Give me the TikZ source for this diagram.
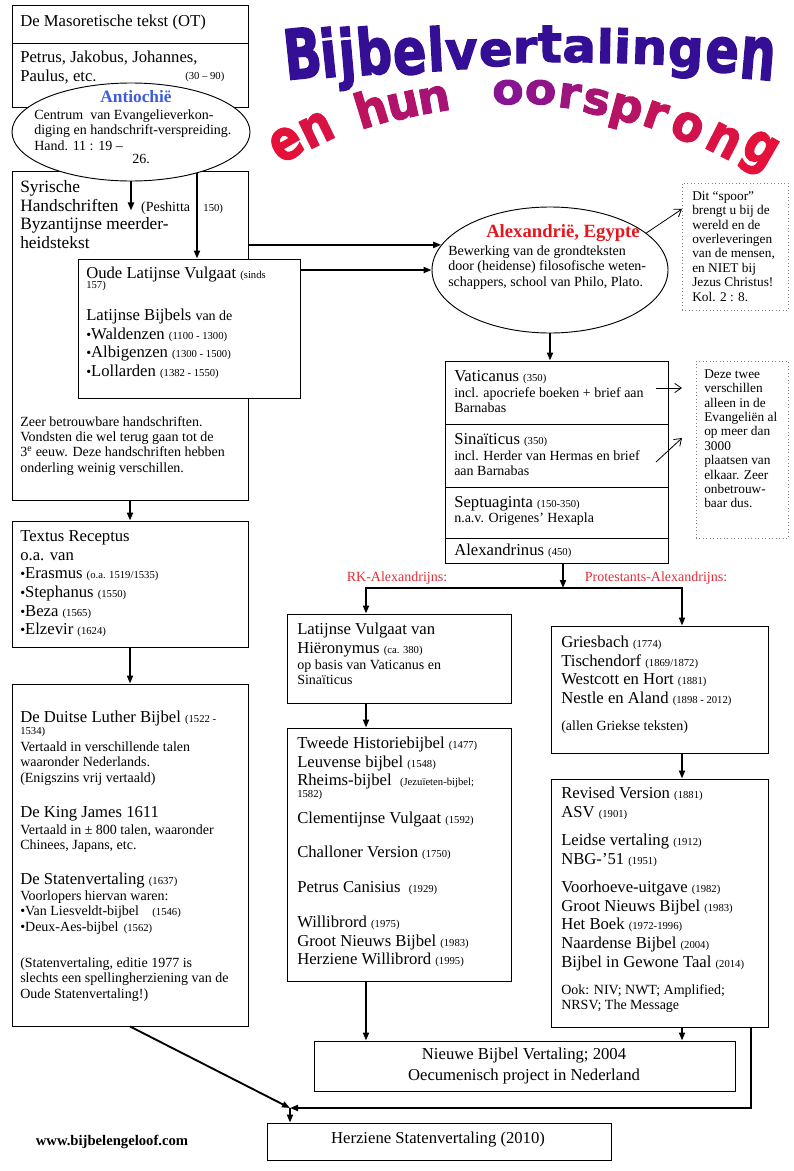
\documentclass[tikz,border=0pt]{standalone}
\usepackage{fontspec}
\setmainfont{Liberation Serif}
\newfontfamily\titelfont[BoldFeatures={FakeBold=2.5}]{DejaVu Sans}
\usetikzlibrary{fit,shapes.geometric,arrows.meta}

\definecolor{titelblauw}{RGB}{52,14,148}
\definecolor{titelpaars}{RGB}{135,20,145}
\definecolor{titelrood}{RGB}{228,18,58}
\definecolor{antblauw}{RGB}{62,92,222}
\definecolor{alexrood}{RGB}{228,22,32}
\definecolor{labelrood}{RGB}{226,44,56}

\newcommand\hoofd{\fontsize{12.5}{14}\selectfont}
\newcommand\klein{\fontsize{10.5}{11.5}\selectfont}
\newcommand\jaar{\fontsize{8}{9}\selectfont}
\newcommand\noot{\fontsize{10}{10.8}\selectfont}

\tikzset{
  kader/.style={draw, line width=0.7pt, fill=white, inner sep=0pt},
  notitie/.style={draw=gray, dotted, line width=0.6pt, inner sep=0pt},
  tekst/.style={anchor=north west, align=left, inner sep=0pt},
  regel/.style={anchor=west, inner sep=0pt},
  pijl/.style={line width=1.4pt, -{Triangle[length=6pt,width=4.5pt]}},
  dunpijl/.style={line width=0.6pt, -{Straight Barb[length=5pt,width=7pt]}},
  titelboven/.style={font=\titelfont\bfseries\fontsize{40}{40}\selectfont, inner sep=0pt, anchor=base},
  titelonder/.style={font=\titelfont\bfseries\fontsize{36}{36}\selectfont, inner sep=0pt, anchor=base},
}

\begin{document}
\begin{tikzpicture}[x=0.75pt, y=-0.75pt]
  \useasboundingbox (0,0) rectangle (793,1171);

  % titel in boogvorm
  \foreach \letter/\lx/\ly/\draai/\hoogte [count=\n] in {B/305/78/6/1.29, i/331/77/6/1.23,
      j/349/76/5/1.21, b/376/74/5/1.19, e/411/74/4/1.2, l/437/71/3/1.11, v/462/69/2/0.99,
      e/496/66/1/0.89, r/525/63/0/0.85, t/550/62/0/0.97, a/579/62/-1/0.86, l/605/63/-1/0.86,
      i/622/63/-2/0.86, n/649/64/-2/0.89, g/685/67/-3/0.99, e/721/72/-4/1.16, n/756/79/-5/1.4}
    \node[titelboven, text=titelblauw, rotate=\draai, xscale=0.93, yscale=\hoogte] (boven\n) at (\lx,\ly) {\letter};
  \foreach \letter/\lx/\ly/\draai/\hoogte [count=\n] in {e/294/157/30/1.16, n/323/143/26/1.11,
      h/376/125/17/1.0, u/406/118/13/0.98, n/436/112/10/0.93, o/508/104/0/0.89, o/540/104/-3/0.89,
      r/568/108/-7/0.91, s/594/114/-11/0.93, p/623/121/-15/0.96, r/651/128/-19/1.0,
      o/682/140/-23/1.05, n/717/154/-27/1.11, g/753/162/-30/1.16} {
    \pgfmathtruncatemacro\rood{min(100,abs(\draai)*3.4)}
    \node[titelonder, text=titelrood!\rood!titelpaars, rotate=\draai, xscale=0.95, yscale=\hoogte] (onder\n) at (\lx,\ly) {\letter};
  }

  % kaders
  \node[kader, fit={(12,5) (248,43)}] (mas) {};
  \node[kader, fit={(12,43) (248,107)}] (apost) {};
  \node[kader, fit={(12,171) (248,500)}] (syr) {};
  \node[kader, fit={(78,259) (300,398)}] (oude) {};
  \node[kader, fit={(12,521) (248,647)}] (textus) {};
  \node[kader, fit={(12,684) (248,1026)}] (luther) {};
  \node[kader, fit={(445,361) (668,424)}] (vat) {};
  \node[kader, fit={(445,424) (668,487)}] (sin) {};
  \node[kader, fit={(445,487) (668,538)}] (sep) {};
  \node[kader, fit={(445,538) (668,563)}] (alx) {};
  \node[kader, fit={(287,614) (511,703)}] (vulg) {};
  \node[kader, fit={(287,728) (511,981)}] (tweede) {};
  \node[kader, fit={(551,626) (768,753)}] (gries) {};
  \node[kader, fit={(551,779) (768,1027)}] (revised) {};
  \node[kader, fit={(314,1041) (735,1091)}] (nbv) {};
  \node[kader, fit={(267,1123) (611,1160)}] (herz) {};
  \node[notitie, fit={(682,183) (788,310)}] (noot1) {};
  \node[notitie, fit={(696,361) (788,538)}] (noot2) {};

  % ellipsen
  \node[kader, ellipse, minimum width=178.5pt, minimum height=73.5pt] (antiochie) at (131,132) {};
  \node[kader, ellipse, minimum width=177pt, minimum height=94.5pt] (alexandrie) at (550,270) {};

  % teksten links
  \node[regel, font=\hoofd] (mastekst) at (20,22) {De Masoretische tekst (OT)};
  \node[tekst, font=\hoofd] (aposttekst) at (20,49) {\strut Petrus, Jakobus, Johannes,\\Paulus, etc.};
  \node[regel, font=\jaar] (apostjaar) at (185,77) {(30 – 90)};

  \node[font=\fontsize{13}{15}\selectfont\bfseries, text=antblauw, inner sep=0pt] (anttitel) at (136,97) {Antiochië};
  \node[tekst, font=\klein] (anttekst) at (34,108.5) {\strut Centrum\ \ van Evangelieverkon-\\diging en handschrift-verspreiding.\\Hand. 11 : 19 –};
  \node[font=\klein, inner sep=0pt] (antregel) at (141,159) {26.};

  \node[tekst, font=\fontsize{13}{14}\selectfont] (syrtekst) at (20,179) {\strut Syrische\\Handschriften\hspace{17pt}{\klein (Peshitta}\hspace{10pt}{\jaar 150)}\\Byzantijnse meerder-\\heidstekst};
  \node[tekst, font=\klein] (syrnoot) at (20,415) {\strut Zeer betrouwbare handschriften.\\Vondsten die wel terug gaan tot de\\3\textsuperscript{e} eeuw. Deze handschriften hebben\\onderling weinig verschillen.};

  \node[tekst, font=\hoofd] (oudetekst) at (86,265) {\strut Oude Latijnse Vulgaat {\jaar (sinds}};
  \node[regel, font=\jaar] (oudejaar) at (86,286) {157)};
  \node[tekst, font=\hoofd] (oudelijst) at (86,307) {\strut Latijnse Bijbels {\klein van de}\\{\klein\textbullet}Waldenzen {\jaar (1100 - 1300)}\\{\klein\textbullet}Albigenzen {\jaar (1300 - 1500)}\\{\klein\textbullet}Lollarden {\jaar (1382 - 1550)}};

  \node[tekst, font=\hoofd] (textustekst) at (20,528) {\strut Textus Receptus\\o.a. van\\{\klein\textbullet}Erasmus {\jaar (o.a. 1519/1535)}\\{\klein\textbullet}Stephanus {\jaar (1550)}\\{\klein\textbullet}Beza {\jaar (1565)}\\{\klein\textbullet}Elzevir {\jaar (1624)}};

  \node[tekst, font=\hoofd] (luthertitel) at (20,709) {\strut De Duitse Luther Bijbel {\jaar (1522 -}};
  \node[regel, font=\jaar] (lutherjaar) at (20,732) {1534)};
  \node[tekst, font=\klein] (luthertekst) at (20,740.5) {\strut Vertaald in verschillende talen\\waaronder Nederlands.\\(Enigszins vrij vertaald)};
  \node[tekst, font=\hoofd] (kjtitel) at (20,804) {\strut De King James 1611};
  \node[tekst, font=\klein] (kjtekst) at (20,823.5) {\strut Vertaald in ± 800 talen, waaronder\\Chinees, Japans, etc.};
  \node[tekst, font=\hoofd] (svtitel) at (20,871) {\strut De Statenvertaling {\jaar (1637)}};
  \node[tekst, font=\klein] (svtekst) at (20,889.5) {\strut Voorlopers hiervan waren:\\\textbullet Van Liesveldt-bijbel\hspace{10pt}{\jaar (1546)}\\\textbullet Deux-Aes-bijbel\hspace{4pt}{\jaar (1562)}};
  \node[tekst, font=\klein] (svnoot) at (20,956.5) {\strut (Statenvertaling, editie 1977 is\\slechts een spellingherziening van de\\Oude Statenvertaling!)};

  % teksten rechts
  \node[font=\fontsize{14}{16}\selectfont\bfseries, text=alexrood, inner sep=0pt] (alextitel) at (563,233) {Alexandrië, Egypte};
  \node[tekst, font=\klein] (alextekst) at (448,244.5) {\strut Bewerking van de grondteksten\\door (heidense) filosofische weten-\\schappers, school van Philo, Plato.};

  \node[tekst, font=\noot] (noot1tekst) at (692,190) {\strut Dit “spoor”\\brengt u bij de\\wereld en de\\overleveringen\\van de mensen,\\en NIET bij\\Jezus Christus!\\Kol. 2 : 8.};
  \node[tekst, font=\noot] (noot2tekst) at (704,368) {\strut Deze twee\\verschillen\\alleen in de\\Evangeliën al\\op meer dan\\3000\\plaatsen van\\elkaar. Zeer\\onbetrouw-\\baar dus.};

  \node[tekst, font=\hoofd] (vattitel) at (454,368) {\strut Vaticanus {\jaar (350)}};
  \node[tekst, font=\klein] (vattekst) at (454,386.5) {\strut incl. apocriefe boeken + brief aan\\Barnabas};
  \node[tekst, font=\hoofd] (sintitel) at (454,431) {\strut Sinaïticus {\jaar (350)}};
  \node[tekst, font=\klein] (sintekst) at (454,449.5) {\strut incl. Herder van Hermas en brief\\aan Barnabas};
  \node[tekst, font=\hoofd] (septtitel) at (454,494) {\strut Septuaginta {\jaar (150-350)}};
  \node[tekst, font=\klein] (septtekst) at (454,511.5) {\strut n.a.v. Origenes’ Hexapla};
  \node[regel, font=\hoofd] (alxtekst) at (454,551) {Alexandrinus {\jaar (450)}};

  \node[font=\klein, text=labelrood, inner sep=0pt] (rklabel) at (397,578) {RK-Alexandrijns:};
  \node[font=\klein, text=labelrood, inner sep=0pt] (protlabel) at (656,578) {Protestants-Alexandrijns:};

  \node[tekst, font=\hoofd] (vulgtekst) at (297,621) {\strut Latijnse Vulgaat van\\Hiëronymus {\jaar (ca. 380)}};
  \node[tekst, font=\klein] (vulgnoot) at (297,658.5) {\strut op basis van Vaticanus en\\Sinaïticus};

  \node[tekst, font=\hoofd] (tweedetekst) at (297,735) {\strut Tweede Historiebijbel {\jaar (1477)}\\Leuvense bijbel {\jaar (1548)}\\Rheims-bijbel\ \ {\jaar (Jezuïeten-bijbel;}};
  \node[regel, font=\jaar] (tweedejaar) at (297,795) {1582)};
  \node[tekst, font=\hoofd] (clemtekst) at (297,810) {\strut Clementijnse Vulgaat {\jaar (1592)}};
  \node[tekst, font=\hoofd] (challtekst) at (297,844) {\strut Challoner Version {\jaar (1750)}};
  \node[tekst, font=\hoofd] (canitekst) at (297,879) {\strut Petrus Canisius\ \ {\jaar (1929)}};
  \node[tekst, font=\hoofd] (willtekst) at (297,914) {\strut Willibrord {\jaar (1975)}\\Groot Nieuws Bijbel {\jaar (1983)}\\Herziene Willibrord {\jaar (1995)}};

  \node[tekst, font=\hoofd] (griestekst) at (561,634) {\strut Griesbach {\jaar (1774)}\\Tischendorf {\jaar (1869/1872)}\\Westcott en Hort {\jaar (1881)}\\Nestle en Aland {\jaar (1898 - 2012)}};
  \node[tekst, font=\klein] (griesnoot) at (561,719.5) {\strut (allen Griekse teksten)};

  \node[tekst, font=\hoofd] (revtekst1) at (561,785) {\strut Revised Version {\jaar (1881)}\\ASV {\jaar (1901)}};
  \node[tekst, font=\hoofd] (revtekst2) at (561,832) {\strut Leidse vertaling {\jaar (1912)}\\NBG-’51 {\jaar (1951)}};
  \node[tekst, font=\hoofd] (revtekst3) at (561,879) {\strut Voorhoeve-uitgave {\jaar (1982)}\\Groot Nieuws Bijbel {\jaar (1983)}\\Het Boek {\jaar (1972-1996)}\\Naardense Bijbel {\jaar (2004)}\\Bijbel in Gewone Taal {\jaar (2014)}};
  \node[tekst, font=\klein] (revnoot) at (561,983.5) {\strut Ook: NIV; NWT; Amplified;\\NRSV; The Message};

  \node[font=\fontsize{12.5}{15.5}\selectfont, align=center, inner sep=0pt] (nbvtekst) at (524,1066) {Nieuwe Bijbel Vertaling; 2004\\Oecumenisch project in Nederland};
  \node[font=\fontsize{12.5}{14}\selectfont, inner sep=0pt] (herztekst) at (438,1140) {Herziene Statenvertaling (2010)};
  \node[font=\fontsize{11}{13}\selectfont\bfseries, inner sep=0pt] (website) at (112,1142) {www.bijbelengeloof.com};

  % hulppunten
  \coordinate (splits) at (563,588);
  \coordinate (rk) at (366,588);
  \coordinate (prot) at (682,588);
  \coordinate (samen) at (290,1108);
  \coordinate (hoek) at (751,1108);
  \coordinate (vatpunt) at (656,388);
  \coordinate (sinpunt) at (656,462);
  \coordinate (noot1pijl) at (682,209);

  % pijlen
  \draw[pijl] (antiochie.south) -- ++(0,29);
  \draw[pijl] (antiochie.-32.6) -- (oude.north -| antiochie.-32.6);
  \draw[pijl] (syr.east |- alexandrie.167.6) -- (alexandrie.167.6);
  \draw[pijl] (oude.east |- alexandrie.west) -- (alexandrie.west);
  \draw[dunpijl] (alexandrie.21) -- (noot1pijl);
  \draw[pijl] (alexandrie.south) -- (alexandrie.south |- vat.north);
  \draw[dunpijl] (vatpunt) -- ++(26,0);
  \draw[dunpijl] (sinpunt) -- ++(26,-24);
  \draw[pijl] (alx.south -| splits) -- (splits);
  \draw[pijl] (splits) -- (rk) -- (rk |- vulg.north);
  \draw[pijl] (splits) -- (prot) -- (prot |- gries.north);
  \draw[pijl] (vulg.south -| rk) -- (tweede.north -| rk);
  \draw[pijl] (tweede.south -| rk) -- (nbv.north -| rk);
  \draw[pijl] (gries.south -| prot) -- (revised.north -| prot);
  \draw[pijl] (revised.south -| prot) -- (nbv.north -| prot);
  \draw[pijl] (syr.south) -- (textus.north);
  \draw[pijl] (textus.south) -- (luther.north);
  \draw[pijl] (luther.south) -- (samen);
  \draw[pijl] (revised.south -| hoek) -- (hoek) -- (samen);
  \draw[pijl] (samen) -- (samen |- herz.north);
\end{tikzpicture}
\end{document}
